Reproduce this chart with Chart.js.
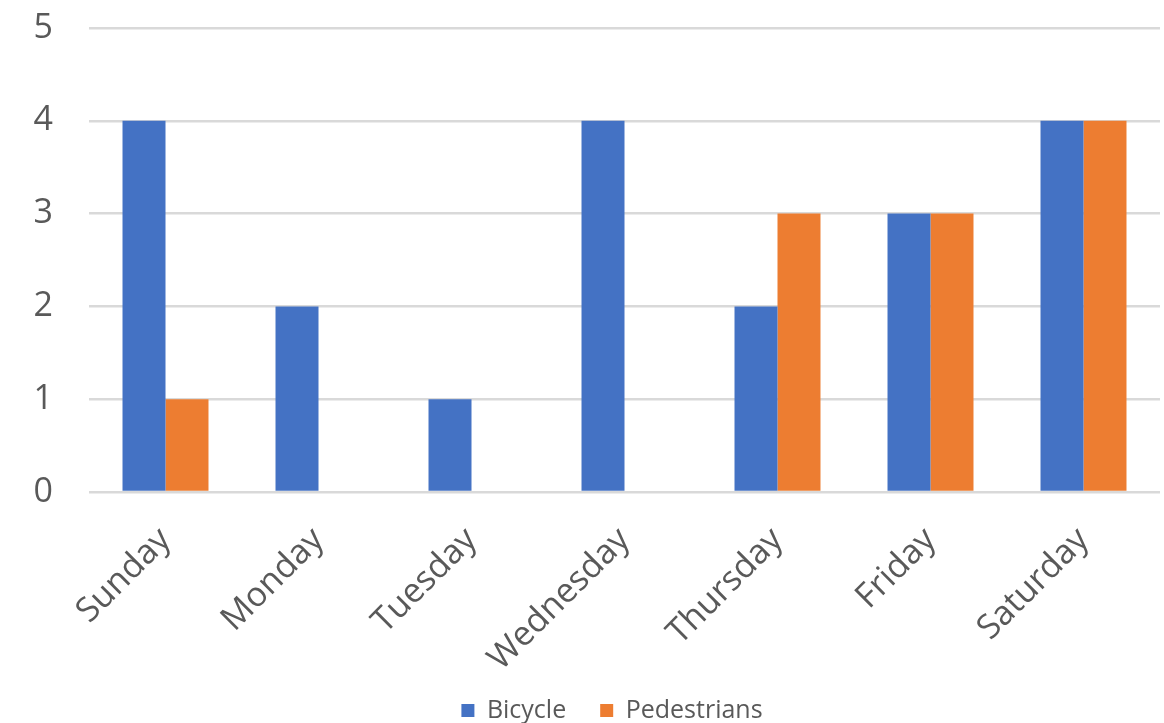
<!DOCTYPE html>
<html>
<head>
<meta charset="utf-8">
<script src="https://cdn.jsdelivr.net/npm/chart.js@4/dist/chart.umd.min.js"></script>
<style>
  html, body { margin: 0; padding: 0; background: #ffffff; }
  #wrap { width: 1164px; height: 723px; }
</style>
</head>
<body>
<div id="wrap"><canvas id="c" width="1164" height="723"></canvas></div>
<script>
const days = ['Sunday', 'Monday', 'Tuesday', 'Wednesday', 'Thursday', 'Friday', 'Saturday'];
const bicycle = [4, 2, 1, 4, 2, 3, 4];
const pedestrians = [1, 0, 0, 0, 3, 3, 4];
const yTicks = [0, 1, 2, 3, 4, 5];

const FONT = "'Open Sans', 'Liberation Sans', sans-serif";
const GRID = '#d9d9d9';
const TEXT = '#595959';

// Nudge the legend row after layout so it sits centred under the bars.
const legendNudge = {
  id: 'legendNudge',
  afterLayout(chart) {
    const lg = chart.legend;
    if (!lg) return;
    lg.left += 32; lg.right += 32;
    lg.top -= 7; lg.bottom -= 7;
  }
};

new Chart(document.getElementById('c'), {
  type: 'bar',
  data: {
    labels: days,
    datasets: [
      { label: 'Bicycle', data: bicycle, backgroundColor: '#4472c4' },
      { label: 'Pedestrians', data: pedestrians, backgroundColor: '#ed7d31' }
    ]
  },
  plugins: [legendNudge],
  options: {
    responsive: false,
    animation: false,
    layout: { padding: { top: 28, right: 4, left: 0, bottom: -17 } },
    datasets: { bar: { categoryPercentage: 0.562, barPercentage: 1.0 } },
    scales: {
      x: {
        grid: { display: false, drawTicks: false },
        border: { display: false },
        ticks: {
          color: TEXT,
          font: { family: FONT, size: 34 },
          minRotation: 45,
          maxRotation: 45,
          padding: 28
        },
        afterFit: (s) => { s.height = 179; }
      },
      y: {
        min: 0,
        max: 5,
        afterBuildTicks: (s) => { s.ticks = yTicks.map(v => ({ value: v })); },
        grid: { color: GRID, lineWidth: 2.5, drawTicks: false },
        border: { display: false },
        ticks: {
          color: TEXT,
          font: { family: FONT, size: 34 },
          padding: 36
        },
        afterFit: (s) => { s.width = 89; s.paddingTop = 0; s.paddingBottom = 0; }
      }
    },
    plugins: {
      tooltip: { enabled: false },
      legend: {
        position: 'bottom',
        labels: {
          color: TEXT,
          font: { family: FONT, size: 25 },
          boxWidth: 13,
          boxHeight: 13,
          padding: 34
        }
      }
    }
  }
});
</script>
</body>
</html>
